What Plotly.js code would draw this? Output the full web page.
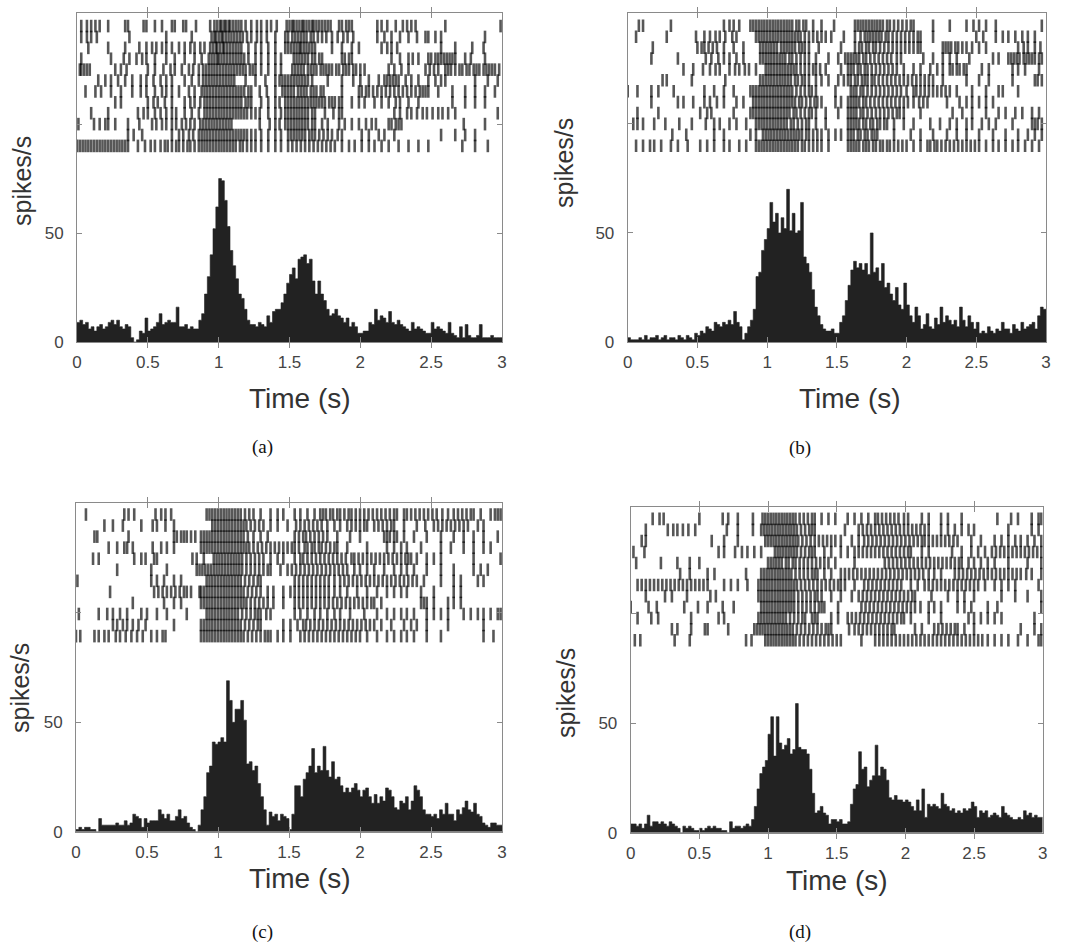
<!DOCTYPE html>
<html>
<head>
<meta charset="utf-8">
<script src="https://cdn.plot.ly/plotly-3.0.1.min.js"></script>
<style>html,body{margin:0;padding:0;background:#fff;}#chart{width:1071px;height:943px;}</style>
</head>
<body>
<div id="chart"></div>
<script>
// ---------- data ----------
const BIN_WIDTH = 0.02; // seconds per PSTH bin
const xTickVals = [0, 0.5, 1, 1.5, 2, 2.5, 3];
const xTickText = ['0', '0.5', '1', '1.5', '2', '2.5', '3'];
const yTickVals = [0, 50, 100];
const yTickText = ['0', '50', ''];
const panelLabels = ['(a)', '(b)', '(c)', '(d)'];
const xTitle = 'Time (s)';
const yTitle = 'spikes/s';

// PSTH (spikes/s), 150 bins of 0.02 s
const psthA = [9,10,8,9,6,7,5,7,8,6, 7,9,10,8,10,7,6,8,7,2, 0,1,5,4,11,5,6,7,9,13, 8,9,10,9,9,16,7,7,8,6,
  7,6,6,10,13,22,30,40,52,62, 75,74,65,53,42,35,29,22,20,15, 10,8,8,7,9,8,7,12,9,14, 15,15,18,22,27,31,34,29,38,39,
  40,36,38,28,22,28,22,19,15,12, 13,15,12,11,9,11,7,9,7,4, 4,5,5,9,8,15,10,12,11,9, 14,9,8,10,8,7,6,5,9,6,
  7,6,5,4,4,9,6,7,6,5, 4,9,4,3,2,7,2,8,3,2, 2,3,8,2,2,2,3,2,2,2];
const psthB = [2,1,1,1,2,1,3,1,2,2, 3,1,2,3,1,2,2,1,3,2, 1,3,2,1,4,3,5,4,7,6, 5,9,8,7,9,8,10,8,14,9,
  7,1,4,7,10,15,30,32,42,47, 52,64,55,59,50,57,52,70,51,59, 50,51,64,39,36,32,24,16,12,8, 6,5,5,6,4,4,9,12,19,26,
  33,37,34,36,33,36,31,50,32,34, 28,36,25,27,22,19,25,17,15,27, 17,12,9,16,12,6,8,13,7,6, 11,8,16,9,12,10,8,10,7,16,
  10,7,12,9,6,9,4,5,4,7, 5,4,6,5,9,6,6,4,8,6, 5,9,6,7,8,9,6,12,16,15];
const psthC = [1,2,1,2,2,1,1,0,6,3, 3,3,3,3,4,3,3,5,3,4, 8,7,6,2,6,4,5,5,5,10, 8,6,8,5,5,7,10,6,7,4,
  2,1,0,3,10,16,27,30,41,40, 41,43,41,69,60,50,56,56,60,51, 31,32,28,30,22,16,10,3,9,7, 8,5,8,7,6,1,8,21,21,16,
  24,27,30,38,27,30,28,39,28,25, 32,24,25,21,18,20,18,20,22,19, 16,19,20,16,13,17,13,16,14,20, 19,16,11,10,14,13,16,10,14,21,
  19,16,10,8,8,7,8,6,10,8, 13,8,8,5,10,8,11,14,10,9, 13,8,7,4,3,2,4,4,3,3];
const psthD = [4,4,3,4,2,4,8,3,5,5, 4,5,4,3,5,4,3,2,0,3, 2,3,2,1,1,2,1,2,3,2, 3,2,2,1,1,0,5,2,3,3,
  2,3,4,3,6,12,20,27,30,33, 45,53,35,53,41,38,40,43,36,38, 59,39,38,38,36,29,18,9,10,12, 9,8,4,6,6,5,6,4,4,5,
  13,20,22,37,29,30,21,24,26,40, 26,30,29,24,16,15,17,15,15,14, 15,14,12,10,15,10,20,7,13,12, 13,12,11,18,13,12,10,11,9,10,
  9,11,10,11,14,12,7,10,9,10, 7,8,9,8,7,12,9,8,7,6, 6,7,6,10,8,9,7,8,7,7];

// Raster spike times (s), 12 trials per panel, trial 1 at top
const rasterA = [
 [0.03,0.07,0.10,0.13,0.16,0.22,0.34,0.36,0.47,0.49,0.55,0.60,0.67,0.69,0.75,0.77,0.84,0.94,0.97,0.99,1.01,1.02,1.04,1.05,1.07,1.08,1.10,1.12,1.14,1.16,1.19,1.23,1.27,1.30,1.34,1.37,1.41,1.48,1.50,1.52,1.53,1.55,1.57,1.59,1.60,1.62,1.64,1.66,1.67,1.69,1.71,1.73,1.75,1.77,1.79,1.85,1.87,1.90,1.92,1.94,2.12,2.15,2.19,2.25,2.30,2.33,2.36,2.39,2.60,2.99],
 [0.03,0.07,0.10,0.14,0.37,0.63,0.81,0.95,0.97,0.98,1.00,1.02,1.03,1.05,1.07,1.09,1.11,1.13,1.15,1.17,1.20,1.23,1.27,1.30,1.34,1.40,1.47,1.49,1.52,1.54,1.56,1.58,1.60,1.62,1.65,1.67,1.70,1.73,1.76,1.80,1.84,1.88,1.91,1.95,2.12,2.17,2.22,2.28,2.34,2.40,2.46,2.48,2.53,2.57,2.88],
 [0.08,0.22,0.34,0.44,0.49,0.53,0.56,0.60,0.63,0.67,0.72,0.76,0.80,0.83,0.87,0.90,0.94,0.96,0.98,0.99,1.01,1.03,1.04,1.06,1.08,1.10,1.12,1.14,1.16,1.21,1.26,1.30,1.35,1.40,1.47,1.49,1.51,1.53,1.55,1.57,1.58,1.60,1.62,1.64,1.66,1.68,1.80,1.87,1.94,1.99,2.15,2.19,2.22,2.26,2.57,2.67,2.79,2.87],
 [0.03,0.24,0.33,0.37,0.42,0.46,0.49,0.55,0.63,0.69,0.76,0.83,0.88,0.93,0.95,0.97,0.99,1.00,1.02,1.04,1.06,1.08,1.10,1.12,1.14,1.16,1.18,1.21,1.26,1.30,1.35,1.40,1.44,1.53,1.55,1.57,1.59,1.61,1.63,1.66,1.68,1.71,1.73,1.87,1.89,1.92,1.94,2.22,2.28,2.34,2.37,2.41,2.48,2.50,2.53,2.55,2.57,2.59,2.61,2.63,2.65,2.67,2.74,2.78,2.88],
 [0.02,0.03,0.05,0.07,0.09,0.27,0.31,0.35,0.50,0.55,0.61,0.66,0.69,0.74,0.79,0.82,0.86,0.89,0.91,0.93,0.95,0.97,0.99,1.01,1.03,1.05,1.07,1.09,1.11,1.13,1.15,1.17,1.19,1.22,1.24,1.26,1.30,1.35,1.40,1.44,1.52,1.54,1.56,1.58,1.60,1.63,1.65,1.67,1.69,1.72,1.74,1.76,1.78,1.80,1.83,1.85,1.88,1.90,1.92,1.95,1.97,2.00,2.03,2.20,2.24,2.29,2.34,2.46,2.49,2.52,2.55,2.60,2.62,2.64,2.67,2.70,2.72,2.75,2.77,2.80,2.82,2.84,2.87,2.89,2.91,2.93,2.95,2.98],
 [0.15,0.20,0.24,0.29,0.34,0.39,0.45,0.49,0.54,0.59,0.63,0.67,0.76,0.81,0.86,0.89,0.91,0.93,0.95,0.97,0.99,1.01,1.03,1.05,1.07,1.09,1.11,1.19,1.26,1.33,1.40,1.43,1.45,1.47,1.49,1.51,1.53,1.55,1.57,1.59,1.61,1.63,1.66,1.77,1.87,1.95,2.00,2.06,2.13,2.17,2.19,2.21,2.23,2.25,2.27,2.32,2.36,2.41,2.48,2.53,2.57,2.60,2.81,2.90,2.97],
 [0.06,0.13,0.17,0.24,0.31,0.39,0.45,0.49,0.55,0.60,0.63,0.67,0.72,0.79,0.83,0.88,0.90,0.92,0.94,0.96,0.98,1.00,1.02,1.04,1.06,1.08,1.10,1.12,1.14,1.16,1.18,1.21,1.23,1.29,1.34,1.40,1.45,1.47,1.49,1.51,1.53,1.56,1.58,1.60,1.62,1.65,1.67,1.69,1.72,1.74,1.87,1.99,2.01,2.04,2.06,2.09,2.12,2.15,2.18,2.21,2.24,2.27,2.30,2.33,2.36,2.39,2.42,2.44,2.46,2.48,2.55,2.65,2.74,2.81,2.88,2.95],
 [0.27,0.31,0.50,0.54,0.57,0.62,0.67,0.76,0.80,0.83,0.87,0.90,0.92,0.94,0.96,0.98,1.00,1.02,1.04,1.06,1.08,1.10,1.12,1.14,1.16,1.19,1.21,1.23,1.30,1.35,1.40,1.43,1.47,1.49,1.51,1.53,1.55,1.57,1.59,1.61,1.63,1.65,1.67,1.69,1.71,1.73,1.75,1.78,1.80,1.82,1.85,1.87,1.94,1.99,2.03,2.10,2.15,2.20,2.25,2.28,2.34,2.41,2.65,2.74,2.81,2.88],
 [0.10,0.22,0.43,0.47,0.50,0.55,0.59,0.63,0.67,0.70,0.76,0.81,0.86,0.90,0.92,0.94,0.96,0.98,1.00,1.02,1.04,1.06,1.08,1.10,1.12,1.14,1.16,1.18,1.20,1.23,1.26,1.29,1.35,1.40,1.44,1.47,1.49,1.51,1.53,1.55,1.57,1.59,1.61,1.63,1.66,1.68,1.75,1.81,1.85,1.87,2.24,2.28,2.33,2.36,2.40,2.44,2.47,2.51,2.55,2.58,2.62,2.67,2.97],
 [0.01,0.12,0.16,0.20,0.22,0.27,0.36,0.44,0.53,0.56,0.60,0.63,0.67,0.70,0.74,0.77,0.80,0.83,0.87,0.89,0.91,0.93,0.95,0.97,0.99,1.01,1.03,1.05,1.07,1.09,1.29,1.36,1.40,1.43,1.47,1.49,1.51,1.53,1.55,1.57,1.59,1.61,1.63,1.66,1.68,1.73,1.77,1.85,1.89,1.94,1.99,2.04,2.08,2.11,2.20,2.22,2.25,2.27,2.29,2.73,2.88],
 [0.36,0.40,0.46,0.67,0.72,0.75,0.79,0.82,0.86,0.88,0.90,0.92,0.94,0.96,0.98,1.00,1.02,1.04,1.06,1.08,1.10,1.12,1.14,1.16,1.18,1.20,1.23,1.26,1.30,1.35,1.40,1.44,1.49,1.51,1.53,1.55,1.57,1.59,1.61,1.64,1.66,1.68,1.71,1.74,1.77,1.80,1.84,1.87,2.01,2.06,2.13,2.17,2.24,2.57,2.67,2.74,2.81],
 [0.00,0.02,0.04,0.06,0.08,0.10,0.12,0.14,0.16,0.18,0.20,0.22,0.24,0.26,0.28,0.30,0.32,0.34,0.36,0.43,0.48,0.52,0.55,0.59,0.62,0.64,0.67,0.70,0.72,0.75,0.78,0.80,0.83,0.86,0.88,0.90,0.92,0.94,0.96,0.98,1.00,1.02,1.04,1.06,1.08,1.10,1.12,1.15,1.17,1.20,1.23,1.26,1.30,1.35,1.40,1.44,1.49,1.52,1.55,1.58,1.61,1.64,1.67,1.70,1.73,1.76,1.79,1.82,1.87,1.92,1.96,2.01,2.06,2.10,2.15,2.20,2.27,2.34,2.41,2.48,2.72,2.81,2.90]
];
const rasterB = [
 [0.08,0.11,0.31,0.69,0.73,0.76,0.80,0.88,0.90,0.92,0.94,0.96,0.98,1.00,1.02,1.04,1.06,1.08,1.10,1.12,1.14,1.16,1.18,1.21,1.23,1.26,1.28,1.33,1.39,1.48,1.63,1.65,1.67,1.69,1.71,1.73,1.75,1.77,1.79,1.81,1.83,1.86,1.88,1.91,1.94,1.97,2.00,2.03,2.05,2.19,2.31,2.43,2.48,2.52,2.57,2.64,2.97],
 [0.06,0.28,0.49,0.55,0.59,0.63,0.66,0.70,0.75,0.78,0.92,0.94,0.96,0.98,1.00,1.02,1.04,1.06,1.08,1.10,1.12,1.14,1.16,1.18,1.20,1.22,1.24,1.27,1.30,1.33,1.36,1.39,1.42,1.46,1.55,1.63,1.67,1.70,1.72,1.74,1.76,1.78,1.80,1.82,1.85,1.87,1.90,1.93,1.96,1.99,2.02,2.05,2.08,2.10,2.19,2.50,2.55,2.64,2.69,2.73,2.78,2.83,2.87,2.92],
 [0.18,0.50,0.53,0.55,0.58,0.61,0.64,0.69,0.76,0.83,0.95,0.97,0.99,1.01,1.03,1.05,1.07,1.10,1.12,1.14,1.16,1.18,1.20,1.23,1.25,1.27,1.30,1.37,1.53,1.63,1.66,1.68,1.71,1.73,1.76,1.78,1.81,1.84,1.87,1.90,1.93,1.96,1.99,2.02,2.05,2.08,2.10,2.26,2.28,2.30,2.32,2.35,2.37,2.40,2.43,2.47,2.52,2.57,2.80,2.84,2.87,2.92,2.96],
 [0.17,0.36,0.56,0.60,0.65,0.69,0.73,0.78,0.83,0.95,0.97,0.99,1.01,1.03,1.05,1.07,1.09,1.11,1.13,1.16,1.18,1.21,1.24,1.27,1.30,1.35,1.44,1.51,1.56,1.58,1.60,1.62,1.64,1.66,1.69,1.71,1.74,1.77,1.80,1.83,1.86,1.89,1.93,1.96,2.12,2.19,2.26,2.31,2.36,2.45,2.62,2.66,2.73,2.75,2.77,2.79,2.81,2.84,2.86,2.88,2.90,2.92,2.95,2.97],
 [0.40,0.47,0.54,0.59,0.63,0.66,0.73,0.77,0.80,0.84,0.87,0.92,0.99,1.01,1.03,1.05,1.07,1.09,1.11,1.13,1.15,1.17,1.19,1.21,1.24,1.27,1.30,1.33,1.35,1.38,1.42,1.53,1.58,1.60,1.62,1.65,1.67,1.70,1.72,1.75,1.78,1.81,1.84,1.87,1.90,1.93,1.98,2.05,2.10,2.17,2.22,2.26,2.31,2.33,2.36,2.38,2.41,2.43,2.54,2.59,2.76,2.80,2.85,2.95],
 [0.25,0.28,0.46,0.70,0.95,0.97,0.99,1.01,1.03,1.05,1.07,1.09,1.11,1.13,1.15,1.17,1.20,1.22,1.25,1.27,1.30,1.35,1.39,1.44,1.51,1.55,1.58,1.60,1.63,1.65,1.68,1.70,1.72,1.75,1.77,1.80,1.83,1.86,1.89,1.92,1.95,1.98,2.01,2.04,2.07,2.10,2.13,2.16,2.19,2.26,2.43,2.52,2.59,2.76,2.92,2.94,2.97],
 [0.00,0.07,0.17,0.22,0.33,0.55,0.62,0.69,0.76,0.88,0.90,0.92,0.94,0.96,0.98,1.00,1.02,1.04,1.06,1.08,1.10,1.12,1.14,1.16,1.18,1.21,1.24,1.27,1.30,1.32,1.35,1.49,1.60,1.62,1.64,1.67,1.69,1.72,1.75,1.78,1.81,1.84,1.87,1.90,1.93,1.96,2.00,2.05,2.07,2.10,2.13,2.16,2.19,2.22,2.25,2.28,2.31,2.36,2.47,2.57,2.66,2.69,2.80],
 [0.17,0.36,0.40,0.47,0.55,0.59,0.64,0.69,0.78,0.83,0.90,0.92,0.94,0.96,0.98,1.00,1.02,1.04,1.06,1.08,1.10,1.12,1.14,1.16,1.18,1.20,1.23,1.25,1.28,1.31,1.34,1.36,1.39,1.49,1.53,1.58,1.60,1.62,1.64,1.66,1.69,1.71,1.74,1.77,1.80,1.83,1.86,1.89,1.92,1.95,1.98,2.01,2.05,2.09,2.12,2.15,2.29,2.38,2.43,2.47,2.52,2.57,2.62],
 [0.07,0.22,0.52,0.57,0.60,0.76,0.88,0.90,0.92,0.94,0.96,0.98,1.00,1.02,1.04,1.06,1.08,1.10,1.12,1.14,1.16,1.19,1.21,1.24,1.27,1.30,1.32,1.35,1.42,1.51,1.58,1.60,1.62,1.64,1.67,1.69,1.72,1.75,1.78,1.81,1.84,1.87,1.90,1.93,1.95,1.98,2.10,2.33,2.40,2.47,2.57,2.66,2.71,2.78,2.83,2.90,2.95],
 [0.04,0.07,0.11,0.19,0.27,0.37,0.46,0.56,0.62,0.66,0.73,0.78,0.85,0.92,0.94,0.96,0.98,1.00,1.02,1.04,1.06,1.08,1.10,1.12,1.14,1.17,1.19,1.22,1.25,1.28,1.30,1.35,1.42,1.58,1.60,1.62,1.64,1.66,1.69,1.71,1.74,1.76,1.79,1.81,1.84,1.86,1.91,1.98,2.05,2.17,2.24,2.31,2.36,2.43,2.47,2.54,2.59,2.64,2.76,2.90,2.92,2.94,2.97],
 [0.32,0.42,0.62,0.69,0.88,0.92,0.97,0.99,1.01,1.03,1.05,1.07,1.09,1.11,1.13,1.15,1.17,1.19,1.21,1.23,1.25,1.28,1.30,1.33,1.36,1.39,1.44,1.49,1.53,1.58,1.60,1.62,1.65,1.67,1.70,1.72,1.75,1.77,1.79,1.91,2.03,2.10,2.19,2.29,2.36,2.43,2.52,2.62,2.71,2.80,2.87,2.92,2.97],
 [0.06,0.11,0.16,0.19,0.24,0.31,0.36,0.43,0.52,0.57,0.62,0.69,0.73,0.80,0.85,0.92,0.94,0.96,0.98,1.00,1.02,1.04,1.06,1.08,1.10,1.12,1.14,1.16,1.18,1.20,1.22,1.25,1.27,1.30,1.33,1.36,1.39,1.44,1.58,1.60,1.62,1.64,1.66,1.69,1.71,1.73,1.76,1.78,1.81,1.83,1.86,1.88,1.91,1.94,1.97,2.00,2.05,2.10,2.15,2.17,2.20,2.22,2.25,2.28,2.31,2.34,2.37,2.40,2.43,2.46,2.49,2.52,2.57,2.62,2.66,2.71,2.76,2.80,2.85,2.90,2.95]
];
const rasterC = [
 [0.07,0.34,0.37,0.41,0.56,0.60,0.63,0.67,0.92,0.94,0.96,0.98,1.00,1.02,1.04,1.06,1.08,1.10,1.12,1.14,1.16,1.19,1.22,1.25,1.30,1.37,1.42,1.46,1.54,1.58,1.63,1.68,1.72,1.74,1.76,1.79,1.81,1.84,1.86,1.89,1.92,1.94,1.97,2.00,2.03,2.06,2.09,2.12,2.15,2.18,2.21,2.24,2.26,2.31,2.33,2.36,2.39,2.42,2.45,2.48,2.51,2.54,2.58,2.62,2.66,2.69,2.72,2.75,2.78,2.80,2.85,2.92,2.95,2.97,2.99],
 [0.20,0.26,0.33,0.46,0.54,0.57,0.63,0.69,0.96,0.98,1.00,1.02,1.04,1.06,1.08,1.10,1.12,1.14,1.16,1.18,1.20,1.23,1.26,1.29,1.32,1.37,1.42,1.49,1.55,1.58,1.61,1.64,1.67,1.70,1.73,1.77,1.82,1.86,1.91,1.94,1.97,2.00,2.03,2.05,2.10,2.13,2.16,2.19,2.22,2.24,2.31,2.40,2.46,2.52,2.55,2.58,2.61,2.64,2.67,2.70,2.73,2.76,2.83,2.87],
 [0.13,0.15,0.37,0.69,0.71,0.74,0.76,0.78,0.81,0.84,0.88,0.90,0.92,0.94,0.96,0.98,1.00,1.02,1.04,1.06,1.08,1.10,1.12,1.14,1.16,1.18,1.21,1.25,1.30,1.35,1.54,1.57,1.60,1.62,1.65,1.68,1.71,1.74,1.77,1.84,1.93,2.00,2.17,2.19,2.21,2.24,2.26,2.31,2.38,2.47,2.57,2.66,2.73,2.80,2.87,2.97],
 [0.23,0.29,0.34,0.36,0.40,0.54,0.60,0.64,0.69,0.88,0.90,0.92,0.94,0.96,0.98,1.00,1.02,1.04,1.06,1.08,1.10,1.12,1.14,1.16,1.18,1.20,1.22,1.25,1.28,1.31,1.34,1.37,1.40,1.43,1.46,1.49,1.52,1.54,1.57,1.61,1.63,1.66,1.68,1.71,1.73,1.76,1.79,1.82,1.84,1.91,2.05,2.19,2.24,2.29,2.33,2.43,2.57,2.64,2.73,2.80,2.87,2.92],
 [0.12,0.16,0.41,0.46,0.49,0.55,0.57,0.82,0.85,0.90,0.97,0.99,1.01,1.03,1.05,1.07,1.09,1.11,1.13,1.15,1.17,1.20,1.23,1.26,1.29,1.32,1.37,1.42,1.46,1.54,1.58,1.60,1.63,1.66,1.69,1.72,1.75,1.78,1.81,1.84,1.87,1.90,1.94,1.96,1.99,2.02,2.05,2.08,2.11,2.14,2.17,2.20,2.23,2.26,2.29,2.32,2.34,2.36,2.40,2.47,2.52,2.57,2.80,2.99],
 [0.29,0.53,0.64,0.85,0.87,0.89,0.91,0.93,0.95,0.97,0.99,1.01,1.03,1.05,1.07,1.09,1.11,1.13,1.15,1.17,1.20,1.23,1.26,1.29,1.32,1.35,1.37,1.44,1.49,1.52,1.55,1.58,1.61,1.64,1.67,1.70,1.73,1.76,1.79,1.82,1.85,1.88,1.91,1.96,2.00,2.05,2.10,2.17,2.24,2.29,2.33,2.38,2.47,2.57,2.66,2.80,2.85,2.90],
 [0.01,0.53,0.57,0.62,0.69,0.74,0.92,0.94,0.96,0.98,1.00,1.02,1.04,1.06,1.08,1.10,1.12,1.14,1.16,1.19,1.22,1.25,1.28,1.30,1.54,1.57,1.60,1.63,1.66,1.69,1.72,1.75,1.78,1.82,1.86,1.89,1.92,1.95,1.98,2.01,2.04,2.07,2.10,2.13,2.16,2.19,2.22,2.25,2.28,2.31,2.34,2.37,2.40,2.45,2.57,2.66,2.71,2.83,2.87],
 [0.24,0.55,0.58,0.61,0.64,0.67,0.70,0.73,0.76,0.78,0.81,0.87,0.88,0.90,0.92,0.94,0.96,0.98,1.00,1.02,1.04,1.06,1.08,1.10,1.12,1.14,1.16,1.18,1.21,1.24,1.27,1.30,1.35,1.39,1.46,1.51,1.54,1.57,1.60,1.63,1.66,1.69,1.72,1.75,1.78,1.82,1.86,1.91,1.98,2.05,2.12,2.19,2.24,2.29,2.33,2.43,2.52,2.66,2.71],
 [0.40,0.62,0.69,0.74,0.88,0.90,0.92,0.94,0.96,0.98,1.00,1.02,1.04,1.06,1.08,1.10,1.12,1.14,1.16,1.18,1.20,1.23,1.26,1.29,1.32,1.35,1.39,1.46,1.54,1.57,1.60,1.63,1.66,1.69,1.72,1.75,1.78,1.81,1.84,1.87,1.90,1.93,1.96,1.99,2.02,2.05,2.08,2.10,2.15,2.43,2.45,2.47,2.52,2.62,2.66,2.71],
 [0.02,0.16,0.22,0.26,0.31,0.36,0.46,0.50,0.57,0.64,0.78,0.92,0.94,0.96,0.98,1.00,1.02,1.04,1.06,1.08,1.10,1.12,1.14,1.17,1.20,1.23,1.26,1.28,1.30,1.34,1.37,1.54,1.58,1.63,1.68,1.72,1.77,1.82,1.86,1.93,2.03,2.12,2.19,2.24,2.29,2.33,2.38,2.47,2.52,2.57,2.62,2.73,2.78,2.83,2.87,2.92,2.97,2.99],
 [0.26,0.29,0.33,0.36,0.40,0.44,0.49,0.69,0.88,0.90,0.92,0.94,0.96,0.98,1.00,1.02,1.04,1.06,1.08,1.10,1.12,1.14,1.16,1.19,1.22,1.25,1.28,1.30,1.46,1.51,1.56,1.60,1.62,1.65,1.68,1.71,1.74,1.77,1.80,1.83,1.86,1.89,1.92,1.95,1.98,2.01,2.04,2.07,2.10,2.15,2.22,2.31,2.36,2.40,2.47,2.62,2.87],
 [0.00,0.03,0.13,0.16,0.20,0.23,0.28,0.31,0.35,0.39,0.43,0.47,0.53,0.57,0.61,0.63,0.88,0.90,0.92,0.94,0.96,0.98,1.00,1.02,1.04,1.06,1.08,1.10,1.12,1.14,1.16,1.18,1.21,1.24,1.27,1.30,1.33,1.35,1.37,1.42,1.46,1.51,1.58,1.61,1.64,1.67,1.70,1.73,1.76,1.79,1.82,1.85,1.88,1.91,1.94,1.97,2.00,2.05,2.12,2.19,2.24,2.29,2.33,2.38,2.47,2.57,2.87,2.94]
];
const rasterD = [
 [0.16,0.21,0.24,0.50,0.67,0.71,0.78,0.89,0.96,0.98,1.00,1.02,1.04,1.06,1.08,1.10,1.12,1.14,1.16,1.18,1.20,1.23,1.26,1.29,1.32,1.34,1.39,1.44,1.49,1.58,1.63,1.68,1.73,1.78,1.80,1.83,1.86,1.89,1.92,1.95,1.99,2.02,2.12,2.17,2.26,2.31,2.41,2.67,2.77,2.82,2.92,2.97,2.99],
 [0.11,0.27,0.31,0.34,0.38,0.42,0.47,0.70,0.78,0.89,0.95,0.97,0.99,1.01,1.03,1.05,1.07,1.09,1.11,1.13,1.15,1.17,1.19,1.21,1.24,1.27,1.30,1.32,1.34,1.56,1.66,1.69,1.72,1.75,1.78,1.81,1.84,1.87,1.90,1.93,1.96,1.99,2.02,2.05,2.08,2.11,2.14,2.17,2.26,2.31,2.36,2.41,2.46,2.50,2.75,2.92,2.97],
 [0.08,0.11,0.59,0.68,0.78,0.98,1.00,1.02,1.04,1.06,1.08,1.10,1.12,1.14,1.16,1.18,1.20,1.22,1.25,1.28,1.31,1.34,1.37,1.40,1.43,1.46,1.49,1.53,1.61,1.66,1.70,1.73,1.76,1.79,1.82,1.85,1.88,1.91,1.94,1.97,2.00,2.03,2.06,2.09,2.12,2.14,2.17,2.20,2.23,2.26,2.29,2.32,2.35,2.38,2.48,2.55,2.65,2.70,2.75,2.80,2.84,2.89,2.94,2.99],
 [0.02,0.10,0.64,0.68,0.76,0.81,0.85,0.90,0.95,1.05,1.07,1.09,1.11,1.13,1.15,1.17,1.19,1.21,1.24,1.27,1.30,1.32,1.34,1.41,1.46,1.53,1.58,1.63,1.66,1.69,1.72,1.75,1.78,1.81,1.84,1.87,1.90,1.93,1.96,1.99,2.02,2.04,2.12,2.17,2.34,2.41,2.48,2.53,2.58,2.63,2.66,2.69,2.72,2.75,2.78,2.81,2.84,2.87,2.90,2.93,2.96,2.99],
 [0.04,0.22,0.34,0.43,0.50,1.00,1.02,1.04,1.06,1.08,1.10,1.13,1.15,1.18,1.20,1.23,1.26,1.29,1.32,1.35,1.38,1.41,1.44,1.49,1.63,1.85,1.88,1.91,1.94,1.97,2.00,2.03,2.06,2.09,2.12,2.15,2.18,2.21,2.24,2.27,2.30,2.33,2.36,2.39,2.41,2.46,2.50,2.55,2.60,2.65,2.75,2.89,2.99],
 [0.36,0.43,0.56,0.61,0.84,0.95,0.97,0.99,1.01,1.03,1.05,1.07,1.09,1.11,1.13,1.15,1.17,1.20,1.23,1.26,1.29,1.32,1.34,1.36,1.41,1.46,1.53,1.56,1.59,1.62,1.65,1.68,1.71,1.74,1.77,1.80,1.83,1.86,1.89,1.92,1.95,1.98,2.01,2.04,2.07,2.10,2.13,2.17,2.21,2.26,2.36,2.39,2.42,2.45,2.48,2.51,2.54,2.57,2.60,2.63,2.66,2.69,2.72,2.75,2.78,2.81,2.84,2.88,2.92,2.99],
 [0.05,0.08,0.11,0.14,0.17,0.20,0.23,0.26,0.29,0.32,0.35,0.38,0.41,0.44,0.47,0.50,0.53,0.56,0.68,0.73,0.78,0.85,0.93,0.95,0.97,0.99,1.01,1.03,1.05,1.07,1.09,1.11,1.13,1.15,1.17,1.19,1.21,1.24,1.27,1.30,1.33,1.36,1.39,1.42,1.45,1.48,1.51,1.53,1.56,1.63,1.70,1.73,1.76,1.79,1.82,1.85,1.88,1.91,1.94,1.97,2.04,2.09,2.14,2.17,2.20,2.23,2.26,2.29,2.32,2.35,2.38,2.41,2.44,2.47,2.50,2.53,2.58,2.65,2.70,2.75,2.80,2.97],
 [0.11,0.25,0.30,0.41,0.58,0.62,0.93,0.95,0.97,0.99,1.01,1.03,1.05,1.07,1.09,1.11,1.13,1.15,1.17,1.19,1.22,1.25,1.28,1.31,1.34,1.36,1.39,1.46,1.53,1.61,1.66,1.69,1.72,1.75,1.78,1.81,1.84,1.87,1.90,1.93,1.96,1.99,2.02,2.05,2.07,2.19,2.31,2.38,2.43,2.50,2.70,2.80,2.89,2.99],
 [0.00,0.13,0.19,0.39,0.49,0.56,0.67,0.75,0.95,0.97,0.99,1.01,1.03,1.05,1.07,1.09,1.11,1.13,1.15,1.17,1.19,1.22,1.25,1.28,1.31,1.34,1.37,1.39,1.41,1.51,1.68,1.71,1.74,1.77,1.80,1.83,1.86,1.89,1.92,1.95,1.98,2.01,2.04,2.07,2.11,2.17,2.21,2.26,2.38,2.43,2.48,2.60,2.67,2.99],
 [0.05,0.15,0.20,0.44,0.64,0.68,0.93,0.95,0.97,0.99,1.01,1.03,1.05,1.07,1.09,1.11,1.13,1.16,1.19,1.22,1.25,1.27,1.32,1.34,1.36,1.46,1.51,1.58,1.61,1.64,1.67,1.70,1.73,1.76,1.79,1.82,1.85,1.88,1.91,1.94,1.97,1.99,2.04,2.17,2.26,2.46,2.50,2.55,2.60,2.65,2.70,2.94],
 [0.30,0.34,0.44,0.54,0.56,0.71,0.90,0.92,0.94,0.96,0.98,1.00,1.02,1.04,1.06,1.08,1.10,1.12,1.14,1.16,1.18,1.21,1.24,1.27,1.30,1.33,1.36,1.39,1.42,1.44,1.46,1.59,1.63,1.66,1.69,1.72,1.75,1.78,1.81,1.84,1.87,1.90,1.92,2.07,2.12,2.21,2.24,2.27,2.30,2.33,2.36,2.38,2.43,2.50,2.84,2.94,2.99],
 [0.03,0.07,0.32,0.43,0.84,0.88,0.98,1.00,1.02,1.04,1.06,1.08,1.10,1.12,1.14,1.16,1.18,1.20,1.23,1.26,1.29,1.32,1.35,1.38,1.41,1.44,1.47,1.50,1.53,1.68,1.78,1.81,1.84,1.87,1.90,1.93,1.96,1.99,2.02,2.05,2.08,2.11,2.14,2.17,2.20,2.23,2.26,2.29,2.32,2.35,2.38,2.41,2.44,2.47,2.50,2.53,2.56,2.60,2.65,2.70,2.75,2.82,2.89,2.97,2.99]
];

// ---------- layout helpers ----------
const W = 1071, H = 943;
const px = v => v / W;
const py = v => 1 - v / H;
const FONT = 'Liberation Sans, Arial, Helvetica, sans-serif';
const AX = '#8a8a8a';

const panels = [
  {psth: psthA, raster: rasterA, box: [77, 502, 13, 342], ymax: 151, trialRange: [30, -0.2],
   xt: [300, 398], yt: [22, 181], cap: [262, 447]},
  {psth: psthB, raster: rasterB, box: [627.7, 1046, 12.7, 342], ymax: 151, trialRange: [30, -0.2],
   xt: [850, 398], yt: [564, 163], cap: [800, 448]},
  {psth: psthC, raster: rasterC, box: [76, 502, 502.7, 831.7], ymax: 150.4, trialRange: [29.7, -0.07],
   xt: [300, 878], yt: [20, 688], cap: [262, 932]},
  {psth: psthD, raster: rasterD, box: [630.7, 1042.7, 507.3, 832.7], ymax: 148.7, trialRange: [29.45, -0.05],
   xt: [837, 880], yt: [566, 693], cap: [800, 932]}
];

const data = [];
const layout = {
  width: W, height: H,
  margin: {l: 0, r: 0, t: 0, b: 0},
  paper_bgcolor: '#ffffff', plot_bgcolor: '#ffffff',
  showlegend: false,
  annotations: []
};

panels.forEach((p, k) => {
  const n = k + 1;
  const xs = n === 1 ? '' : String(n);
  const xName = 'x' + xs, yName = 'y' + xs;
  const rName = 'y' + (n + 4);

  layout['xaxis' + xs] = {
    domain: [px(p.box[0]), px(p.box[1])], anchor: yName, range: [0, 3],
    tickmode: 'array', tickvals: xTickVals, ticktext: xTickText,
    ticks: 'inside', ticklen: 5, tickcolor: AX, tickwidth: 1,
    showline: true, linecolor: AX, linewidth: 1, mirror: 'allticks',
    showgrid: false, zeroline: false, ticklabelstandoff: 5,
    tickfont: {family: FONT, size: 17, color: '#444'}, fixedrange: true
  };
  layout['yaxis' + xs] = {
    domain: [py(p.box[3]), py(p.box[2])], anchor: xName, range: [0, p.ymax],
    tickmode: 'array', tickvals: yTickVals, ticktext: yTickText,
    ticks: 'inside', ticklen: 5, tickcolor: AX, tickwidth: 1,
    showline: true, linecolor: AX, linewidth: 1, mirror: 'allticks',
    showgrid: false, zeroline: false, ticklabelstandoff: 9,
    tickfont: {family: FONT, size: 17, color: '#444'}, fixedrange: true
  };
  layout['yaxis' + (n + 4)] = {
    overlaying: yName, anchor: xName, range: p.trialRange, visible: false,
    showgrid: false, zeroline: false, fixedrange: true
  };

  const ex = [], ey = [];
  p.psth.forEach((v, i) => { ex.push(i * BIN_WIDTH); ey.push(v); });
  ex.push(p.psth.length * BIN_WIDTH); ey.push(p.psth[p.psth.length - 1]);
  data.push({
    type: 'scatter', mode: 'lines', x: ex, y: ey, xaxis: xName, yaxis: yName,
    line: {shape: 'hv', color: '#222', width: 0.6}, fill: 'tozeroy', fillcolor: '#222',
    hoverinfo: 'skip'
  });

  p.raster.forEach((times, ti) => {
    data.push({
      type: 'scatter', mode: 'markers', x: times, y: times.map(() => ti + 1),
      xaxis: xName, yaxis: rName, cliponaxis: true,
      marker: {symbol: 'line-ns', size: 9, color: 'rgba(0,0,0,0.66)',
               line: {color: 'rgba(0,0,0,0.66)', width: 2.6}},
      hoverinfo: 'skip'
    });
  });

  layout.annotations.push(
    {text: xTitle, x: px(p.xt[0]), y: py(p.xt[1]), xref: 'paper', yref: 'paper',
     xanchor: 'center', yanchor: 'middle', showarrow: false,
     font: {family: FONT, size: 28, color: '#333'}},
    {text: yTitle, x: px(p.yt[0]), y: py(p.yt[1]), xref: 'paper', yref: 'paper',
     xanchor: 'center', yanchor: 'middle', showarrow: false, textangle: -90,
     font: {family: FONT, size: 25, color: '#333'}},
    {text: panelLabels[k], x: px(p.cap[0]), y: py(p.cap[1]), xref: 'paper', yref: 'paper',
     xanchor: 'center', yanchor: 'middle', showarrow: false,
     font: {family: 'Liberation Serif, DejaVu Serif, serif', size: 19, color: '#111'}}
  );
});

Plotly.newPlot('chart', data, layout, {staticPlot: true, displayModeBar: false});
</script>
</body>
</html>
